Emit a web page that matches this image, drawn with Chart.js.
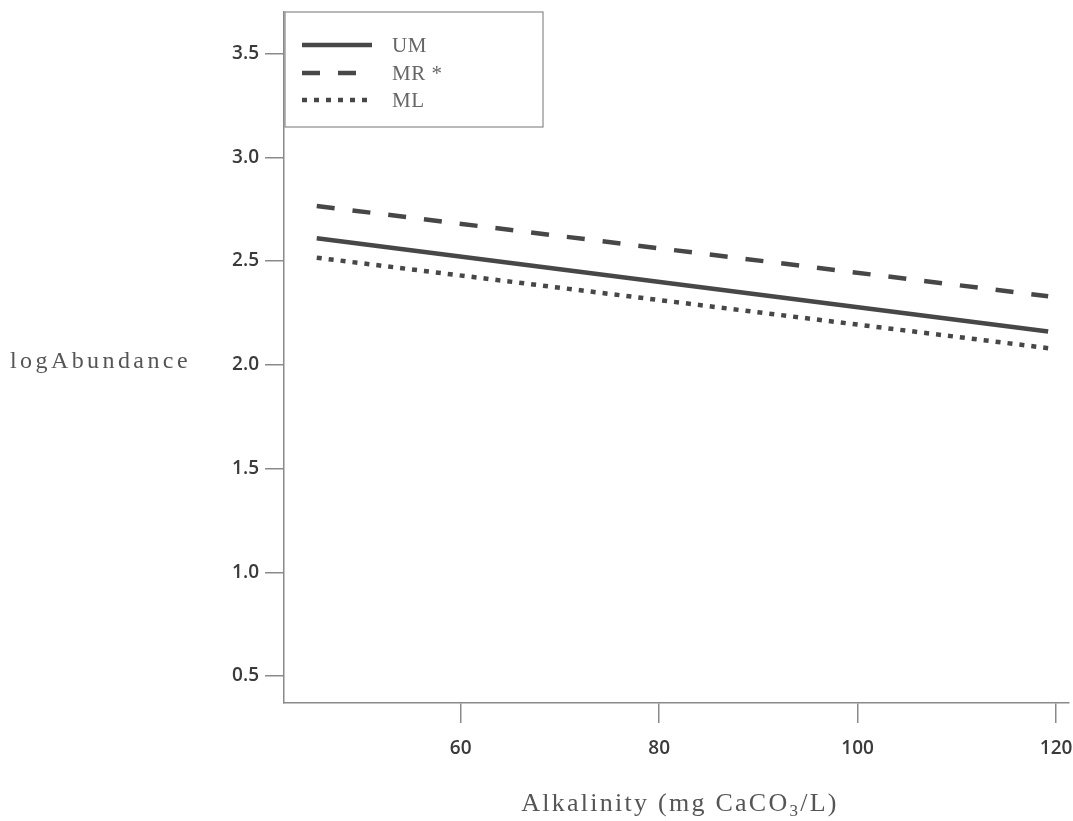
<!DOCTYPE html>
<html>
<head>
<meta charset="utf-8">
<script src="https://cdn.jsdelivr.net/npm/chart.js@4.4.1/dist/chart.umd.min.js"></script>
<style>
html,body{margin:0;padding:0;background:#fff;}
#wrap{width:1073px;height:821px;}
</style>
</head>
<body>
<div id="wrap"><canvas id="c" width="1073" height="821"></canvas></div>
<script>
// ---- data ----
const alkalinity = [45.5, 119.2];
const umValues = [2.61, 2.16];
const mrValues = [2.765, 2.33];
const mlValues = [2.516, 2.08];
const seriesLabels = ["UM", "MR *", "ML"];
const xTicks = [60, 80, 100, 120];
const xTickLabels = ["60", "80", "100", "120"];
const yTicks = [0.5, 1.0, 1.5, 2.0, 2.5, 3.0, 3.5];
const yTickLabels = ["0.5", "1.0", "1.5", "2.0", "2.5", "3.0", "3.5"];
const yTitle = "logAbundance";
const xTitleParts = ["Alkalinity (mg CaCO", "3", "/L)"];

const lineColor = "#474747";
const axisColor = "#8a8a8a";
const tickFont = {family: "'Open Sans', sans-serif", size: 19, weight: "600"};
const serif = "'Liberation Serif', 'DejaVu Serif', serif";

function pts(xs, ys){ return xs.map((x,i)=>({x:x, y:ys[i]})); }

function spacingFor(ctx, text, font, target){
  ctx.font = font;
  ctx.letterSpacing = "0px";
  const w = ctx.measureText(text).width;
  return Math.max(0, (target - w) / text.length);
}

const titlesAndLegend = {
  id: "titlesAndLegend",
  afterDraw(chart){
    const ctx = chart.ctx;
    ctx.save();
    ctx.textAlign = "left";
    ctx.textBaseline = "alphabetic";
    // y title (horizontal)
    ctx.fillStyle = "#555";
    const yFont = "24px " + serif;
    const ls = spacingFor(ctx, yTitle, yFont, 181);
    ctx.font = yFont;
    ctx.letterSpacing = ls + "px";
    ctx.fillText(yTitle, 10, 368);
    // x title with subscript
    const mainFont = "26px " + serif;
    const subFont = "17px " + serif;
    const fullText = xTitleParts.join("");
    const xls = spacingFor(ctx, fullText, mainFont, 322);
    ctx.letterSpacing = xls + "px";
    ctx.font = mainFont; const w1 = ctx.measureText(xTitleParts[0]).width;
    ctx.font = subFont; const w2 = ctx.measureText(xTitleParts[1]).width;
    ctx.font = mainFont; const w3 = ctx.measureText(xTitleParts[2]).width;
    const total = w1 + w2 + w3;
    let x0 = 680 - total/2;
    const base = 811;
    ctx.font = mainFont; ctx.fillText(xTitleParts[0], x0, base);
    ctx.font = subFont; ctx.fillText(xTitleParts[1], x0 + w1, base + 5);
    ctx.font = mainFont; ctx.fillText(xTitleParts[2], x0 + w1 + w2, base);
    // legend
    ctx.letterSpacing = "0px";
    ctx.strokeStyle = "#8a8a8a";
    ctx.lineWidth = 1.2;
    ctx.fillStyle = "#fff";
    ctx.fillRect(285, 12, 258, 115);
    ctx.strokeRect(285, 12, 258, 115);
    const ys = [45, 73, 100];
    chart.data.datasets.forEach((ds, i) => {
      ctx.beginPath();
      ctx.strokeStyle = ds.borderColor;
      ctx.lineWidth = ds.borderWidth;
      ctx.setLineDash(ds.borderDash || []);
      ctx.lineCap = "butt";
      ctx.moveTo(302, ys[i]);
      ctx.lineTo(372, ys[i]);
      ctx.stroke();
      ctx.setLineDash([]);
      ctx.fillStyle = "#666";
      ctx.font = "21px " + serif;
      ctx.letterSpacing = "0.5px";
      ctx.textBaseline = "middle";
      ctx.fillText(ds.label, 392, ys[i] + 1);
    });
    ctx.restore();
  }
};

new Chart(document.getElementById("c"), {
  type: "line",
  data: {
    datasets: [
      {label: seriesLabels[0], data: pts(alkalinity, umValues), borderColor: lineColor, borderWidth: 4.5, borderDash: [], pointRadius: 0, fill: false},
      {label: seriesLabels[1], data: pts(alkalinity, mrValues), borderColor: lineColor, borderWidth: 4.5, borderDash: [18, 18], pointRadius: 0, fill: false},
      {label: seriesLabels[2], data: pts(alkalinity, mlValues), borderColor: lineColor, borderWidth: 4.5, borderDash: [5, 7], pointRadius: 0, fill: false}
    ]
  },
  options: {
    responsive: false,
    animation: false,
    devicePixelRatio: 1,
    layout: {padding: {top: 12, right: 4, left: 0, bottom: 0}},
    plugins: {legend: {display: false}, tooltip: {enabled: false}},
    scales: {
      x: {
        type: "linear",
        min: 42.2, max: 121.3,
        afterBuildTicks: s => { s.ticks = xTicks.map(v => ({value: v})); },
        afterFit: s => { s.height = 118; s.paddingLeft = 0; s.paddingRight = 0; },
        ticks: {
          callback: (v) => xTickLabels[xTicks.indexOf(v)],
          font: tickFont, color: "#3a3a3a", padding: 14, maxRotation: 0, autoSkip: false
        },
        grid: {drawOnChartArea: false, drawTicks: true, tickLength: 20, color: axisColor, lineWidth: 1.5},
        border: {display: true, color: axisColor, width: 1.5}
      },
      y: {
        type: "linear",
        min: 0.37, max: 3.70,
        afterBuildTicks: s => { s.ticks = yTicks.map(v => ({value: v})); },
        afterFit: s => { s.width = 284; s.paddingTop = 0; s.paddingBottom = 0; },
        ticks: {
          callback: (v) => yTickLabels[yTicks.indexOf(v)],
          font: tickFont, color: "#3a3a3a", padding: 6, autoSkip: false
        },
        grid: {drawOnChartArea: false, drawTicks: true, tickLength: 19, color: axisColor, lineWidth: 1.5},
        border: {display: true, color: axisColor, width: 1.5}
      }
    }
  },
  plugins: [titlesAndLegend]
});
</script>
</body>
</html>
